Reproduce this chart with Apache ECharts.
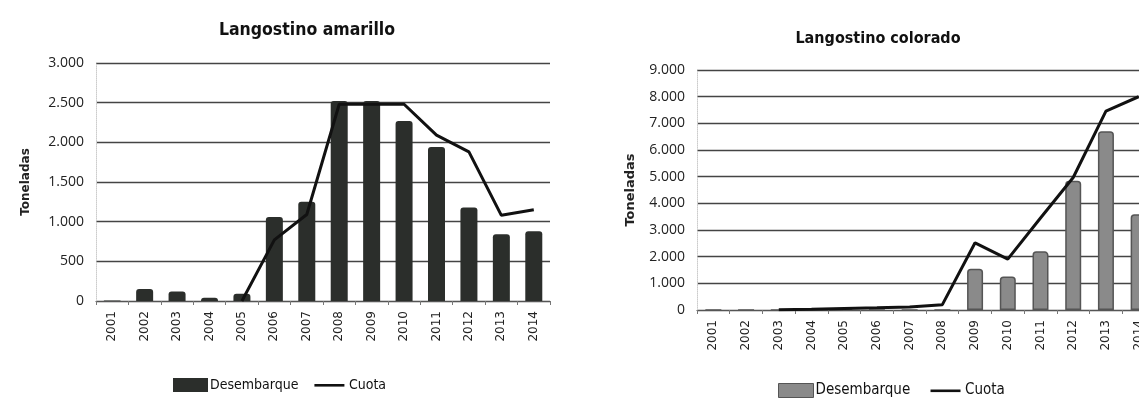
<!DOCTYPE html>
<html><head><meta charset="utf-8">
<script src="https://cdn.jsdelivr.net/npm/echarts@6/dist/echarts.min.js"></script>
<style>html,body{margin:0;padding:0;background:#fff}#c{width:1139px;height:400px}</style>
</head><body><div id="c"></div>
<script>
const years = ['2001','2002','2003','2004','2005','2006','2007','2008','2009','2010','2011','2012','2013','2014'];
const amarilloDesembarque = [5,150,120,40,90,1060,1250,2520,2520,2270,1940,1180,840,880];
const amarilloCuota = [null,null,null,null,0,770,1090,2480,2480,2480,2090,1880,1080,1150];
const coloradoDesembarque = [0,0,0,0,0,0,0,0,1550,1260,2200,4850,6700,3590];
const coloradoCuota = [null,null,10,30,60,80,110,200,2520,1910,3450,4970,7460,8000];

const cond = '"DejaVu Sans Condensed","Liberation Sans Narrow","Open Sans",sans-serif';
const font = '"Open Sans",sans-serif';
const fmt = v => v >= 1000 ? (Math.floor(v/1000) + '.' + String(v%1000).padStart(3,'0')) : String(v);
const lineIcon = 'path://M0,0 M30,14 M0,6 L30,6 L30,8.6 L0,8.6 Z';

const chart = echarts.init(document.getElementById('c'));
function yAxis(gi, max, interval, fs){
  return {gridIndex:gi, type:'value', min:0, max:max, interval:interval,
    name:'Toneladas', nameLocation:'middle', nameGap: gi===0?64:60, nameRotate:90,
    nameTextStyle:{fontFamily:'"DejaVu Sans",sans-serif', fontWeight:'bold', fontSize:gi===0?12:13, color:'#222'},
    axisLine:{show:true, lineStyle:{color:'#ccc', type:'dotted'}}, axisTick:{show:false},
    axisLabel:{formatter:fmt, fontFamily:font, fontSize:fs, color:'#222', margin:12},
    splitLine:{lineStyle:{color:'#444', width:1.4}}};
}
function xAxis(gi){
  return {gridIndex:gi, type:'category', data:years, boundaryGap:true,
    axisLine:{lineStyle:{color:'#555', width:1.2}},
    axisTick:{show:true, length:4, lineStyle:{color:'#777'}},
    axisLabel:{rotate:90, fontFamily:'"DejaVu Sans",sans-serif', fontSize:12, color:'#222', margin:10}};
}
chart.setOption({
  animation:false,
  title:[
    {text:'Langostino amarillo', left:302, top:16, textAlign:'center', textStyle:{fontFamily:cond, fontSize:17.5, fontWeight:'bold', color:'#111'}},
    {text:'Langostino colorado', left:873, top:26, textAlign:'center', textStyle:{fontFamily:cond, fontSize:16, fontWeight:'bold', color:'#111'}}
  ],
  grid:[
    {left:96, width:454, top:63, bottom:99, outerBoundsMode:'none', containLabel:false},
    {left:697, width:458, top:70, bottom:90, outerBoundsMode:'none', containLabel:false}
  ],
  xAxis:[xAxis(0), xAxis(1)],
  yAxis:[yAxis(0,3000,500,14), yAxis(1,9000,1000,14)],
  legend:[
    {left:168, top:373, itemGap:16, itemWidth:35, itemHeight:14, textStyle:{fontFamily:cond, fontSize:14, color:'#111', padding:[0,0,0,-3]},
     data:[{name:'Desembarque', icon:'rect', itemStyle:{color:'#2b2e2b'}}, {name:'Cuota', icon:lineIcon, itemStyle:{color:'#111'}}]},
    {left:773, top:378, itemGap:16, itemWidth:35, itemHeight:14, textStyle:{fontFamily:cond, fontSize:15, color:'#111', padding:[0,0,0,-3]},
     data:[{name:'Desembarque ', icon:'rect', itemStyle:{color:'#8a8a8a', borderColor:'#555', borderWidth:1}}, {name:'Cuota ', icon:lineIcon, itemStyle:{color:'#111'}}]}
  ],
  series:[
    {name:'Desembarque', type:'bar', xAxisIndex:0, yAxisIndex:0, data:amarilloDesembarque, barWidth:17,
     itemStyle:{color:'#2b2e2b', borderRadius:[3,3,0,0]}},
    {name:'Cuota', type:'line', xAxisIndex:0, yAxisIndex:0, data:amarilloCuota, symbol:'none',
     lineStyle:{color:'#111', width:3}, itemStyle:{color:'#111'}},
    {name:'Desembarque ', type:'bar', xAxisIndex:1, yAxisIndex:1, data:coloradoDesembarque, barWidth:16,
     itemStyle:{color:'#8a8a8a', borderColor:'#555', borderWidth:1.5, borderRadius:[3,3,0,0]}},
    {name:'Cuota ', type:'line', xAxisIndex:1, yAxisIndex:1, data:coloradoCuota, symbol:'none',
     lineStyle:{color:'#111', width:3}, itemStyle:{color:'#111'}}
  ]
});
</script></body></html>
